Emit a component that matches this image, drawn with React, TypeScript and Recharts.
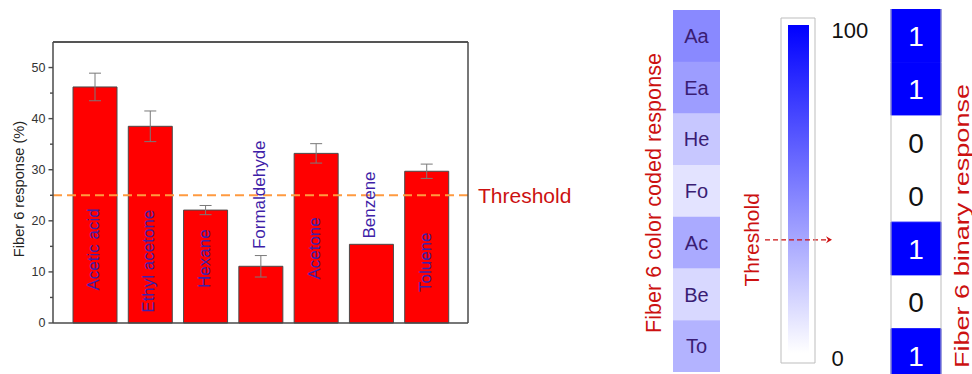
import React from 'react';
import {
  BarChart,
  Bar,
  XAxis,
  YAxis,
  ErrorBar,
  ReferenceLine,
  LabelList,
  Cell,
} from 'recharts';

// ---------- data ----------
const compounds = ['Acetic acid', 'Ethyl acetone', 'Hexane', 'Formaldehyde', 'Acetone', 'Benzene', 'Toluene'];
const shortNames = ['Aa', 'Ea', 'He', 'Fo', 'Ac', 'Be', 'To'];
const responses = [46.2, 38.5, 22.1, 11.1, 33.2, 15.4, 29.7];
const errors = [2.7, 3.0, 0.9, 2.1, 1.9, 0, 1.4];
// value-axis level at which each rotated compound name is centred
const labelCenters = [14.4, 12.1, 12.6, 25.1, 14.6, 23.1, 11.9];
const threshold = 25;
const yTicks = [0, 5, 10, 15, 20, 25, 30, 35, 40, 45, 50];
const yDomain = [0, 55];
const binary = [1, 1, 0, 0, 1, 0, 1];
const gradientTicks = [0, 100];
const arrowLevel = 34.5;
const CELL_SPAN = 1;

const mainData = compounds.map((name, i) => ({ name, value: responses[i], err: errors[i] }));
const cellData = shortNames.map((short, i) => ({ short, value: responses[i], bit: binary[i], span: CELL_SPAN }));
const scaleData = [{ k: 'scale', top: gradientTicks[1] }];

// ---------- styles ----------
const FONT = 'Liberation Sans, Arial, Helvetica, sans-serif';
const AX = '#4a4a4a';
const RED_TXT = '#cc1111';
const NAME_COL = '#3f1fa8';
const CELL_TXT = '#3a1d74';
const BOX = '#bdbdbd';

const shade = (v: number) => {
  const c = Math.round(255 * (1 - v / 100));
  return `rgb(${c},${c},255)`;
};

const LeftTick = (props: any) => {
  const { x, y, payload } = props;
  const major = payload.value % 10 === 0;
  return (
    <g>
      <line x1={x} x2={x - (major ? 4.5 : 3)} y1={y} y2={y} stroke={AX} strokeWidth={1.4} />
      {major && (
        <text x={x - 7.5} y={y} dy={4.4} textAnchor="end" fontSize={12.5} fill="#333" fontFamily={FONT}>
          {payload.value}
        </text>
      )}
    </g>
  );
};

const RightTick = (props: any) => {
  const { x, y, payload } = props;
  const major = payload.value % 10 === 0;
  return <line x1={x} x2={x + (major ? 6 : 3.5)} y1={y} y2={y} stroke={AX} strokeWidth={1.4} />;
};

const boxOf = (props: any) => {
  const vb = props.viewBox || {};
  return {
    x: props.x ?? vb.x,
    y: props.y ?? vb.y,
    width: props.width ?? vb.width,
    height: props.height ?? vb.height,
  };
};

const NameLabel = (props: any) => {
  const { x, y, width, height } = boxOf(props);
  const i = props.index;
  const v = responses[i];
  const base = y + height;
  const cy = base - (labelCenters[i] * height) / v;
  const cx = x + width / 2 - 1.5;
  return (
    <text
      x={cx}
      y={cy}
      transform={`rotate(-90 ${cx} ${cy})`}
      textAnchor="middle"
      dominantBaseline="central"
      fontSize={17}
      fill={NAME_COL}
      fontFamily={FONT}
    >
      {compounds[i]}
    </text>
  );
};

const CellLabel = (props: any) => {
  const { x, y, width, height } = boxOf(props);
  const i = props.index;
  return (
    <text x={x + width / 2} y={y + height / 2} textAnchor="middle" dominantBaseline="central" fontSize={20} fill={CELL_TXT} fontFamily={FONT}>
      {shortNames[i]}
    </text>
  );
};

const BitLabel = (props: any) => {
  const { x, y, width, height } = boxOf(props);
  const i = props.index;
  const b = binary[i];
  return (
    <text x={x + width / 2} y={y + height / 2 + 1} textAnchor="middle" dominantBaseline="central" fontSize={28} fill={b ? '#ffffff' : '#111111'} fontFamily={FONT}>
      {b}
    </text>
  );
};

const ScaleTick = (props: any) => {
  const { x, y, payload } = props;
  return (
    <text x={x + 16.5} y={y + 5} dominantBaseline="central" fontSize={22} fill="#111" fontFamily={FONT}>
      {payload.value}
    </text>
  );
};

const ArrowShape = (p: any) => {
  const y = p.y1;
  const left = Math.min(p.x1, p.x2);
  const right = Math.max(p.x1, p.x2);
  const xs = left - 16;
  const xe = right + 12;
  const tx = left - 29;
  return (
    <g>
      <line x1={xs} y1={y} x2={xe} y2={y} stroke={RED_TXT} strokeWidth={1.3} strokeDasharray="5 3" />
      <path d={`M${xe - 1},${y - 3.5} L${xe + 5},${y} L${xe - 1},${y + 3.5} L${xe + 1},${y} Z`} fill={RED_TXT} />
      <text
        x={tx}
        y={y}
        transform={`rotate(-90 ${tx} ${y})`}
        textAnchor="middle"
        dominantBaseline="central"
        fontSize={21}
        fill={RED_TXT}
        fontFamily={FONT}
      >
        Threshold
      </text>
    </g>
  );
};

export default function App() {
  return (
    <div
      style={{
        position: 'absolute',
        left: 0,
        top: 0,
        width: 972,
        height: 374,
        overflow: 'hidden',
        background: '#fff',
        fontFamily: FONT,
      }}
    >
      {/* main bar chart */}
      <div style={{ position: 'absolute', left: 0, top: 0 }}>
        <BarChart width={600} height={374} data={mainData} margin={{ top: 41, right: 0, bottom: 50, left: 0 }} barSize={44}>
          <XAxis dataKey="name" tick={false} tickLine={false} height={1} padding={{ left: 14, right: 14 }} axisLine={{ stroke: AX, strokeWidth: 1.5 }} />
          <XAxis xAxisId="top" orientation="top" dataKey="name" tick={false} tickLine={false} height={1} padding={{ left: 14, right: 14 }} axisLine={{ stroke: AX, strokeWidth: 1.5 }} />
          <YAxis
            width={53}
            domain={yDomain}
            ticks={yTicks}
            interval={0}
            tickSize={0}
            tickMargin={0}
            tickLine={false}
            tick={<LeftTick />}
            axisLine={{ stroke: AX, strokeWidth: 1.5 }}
          />
          <YAxis
            yAxisId="r"
            orientation="right"
            width={132}
            domain={yDomain}
            ticks={yTicks}
            interval={0}
            tickSize={0}
            tickMargin={0}
            tickLine={false}
            tick={<RightTick />}
            axisLine={{ stroke: AX, strokeWidth: 1.5 }}
          />
          <Bar dataKey="value" fill="#ff0000" stroke="#4a4a4a" strokeWidth={1} isAnimationActive={false}>
            <ErrorBar dataKey="err" width={6} stroke="#7a7a7a" strokeWidth={1} direction="y" />
            <LabelList dataKey="value" content={<NameLabel />} />
          </Bar>
          <ReferenceLine y={yDomain[1]} stroke={AX} strokeWidth={1.5} />
          <ReferenceLine
            y={threshold}
            stroke="#ff9a40"
            strokeWidth={2}
            strokeDasharray="9 5"
            label={{ value: 'Threshold', position: 'right', offset: 10, fill: RED_TXT, fontSize: 21, fontFamily: FONT }}
          />
        </BarChart>
      </div>

      {/* colour coded column */}
      <div style={{ position: 'absolute', left: 673, top: 10 }}>
        <BarChart layout="vertical" width={47} height={362} data={cellData} margin={{ top: 0, right: 0, bottom: 0, left: 0 }} barCategoryGap={0}>
          <XAxis type="number" domain={[0, CELL_SPAN]} hide />
          <YAxis type="category" dataKey="short" hide />
          <Bar dataKey="span" isAnimationActive={false}>
            {cellData.map((d, i) => (
              <Cell key={i} fill={shade(d.value)} />
            ))}
            <LabelList dataKey="short" content={<CellLabel />} />
          </Bar>
        </BarChart>
      </div>

      {/* gradient scale */}
      <div style={{ position: 'absolute', left: 740, top: 0 }}>
        <BarChart width={140} height={374} data={scaleData} margin={{ top: 17, right: 0, bottom: 10, left: 40 }} barSize={21}>
          <defs>
            <linearGradient id="blueScale" x1="0" y1="0" x2="0" y2="1">
              <stop offset="0%" stopColor="#0000ff" />
              <stop offset="100%" stopColor="#ffffff" />
            </linearGradient>
          </defs>
          <XAxis dataKey="k" tick={false} tickLine={false} height={1} axisLine={{ stroke: BOX }} />
          <XAxis xAxisId="top" orientation="top" dataKey="k" tick={false} tickLine={false} height={1} axisLine={{ stroke: BOX }} />
          <YAxis yAxisId="l" width={1} domain={[gradientTicks[0], gradientTicks[1]]} padding={{ top: 7, bottom: 10 }} tick={false} tickLine={false} axisLine={{ stroke: BOX }} />
          <YAxis
            yAxisId="r"
            orientation="right"
            width={65}
            domain={[gradientTicks[0], gradientTicks[1]]}
            ticks={gradientTicks}
            padding={{ top: 7, bottom: 10 }}
            tickSize={0}
            tickMargin={0}
            tickLine={false}
            tick={<ScaleTick />}
            axisLine={{ stroke: BOX }}
          />
          <Bar yAxisId="r" dataKey="top" fill="url(#blueScale)" isAnimationActive={false} />
          <ReferenceLine yAxisId="r" y={arrowLevel} shape={<ArrowShape />} />
        </BarChart>
      </div>

      {/* binary column */}
      <div style={{ position: 'absolute', left: 890, top: 9 }}>
        <BarChart layout="vertical" width={52} height={373} data={cellData} margin={{ top: 0, right: 0, bottom: 0, left: 0 }} barCategoryGap={0}>
          <XAxis type="number" domain={[0, CELL_SPAN]} hide />
          <YAxis type="category" dataKey="short" width={1} tick={false} tickLine={false} axisLine={{ stroke: BOX }} />
          <YAxis yAxisId="r" type="category" orientation="right" dataKey="short" width={1} tick={false} tickLine={false} axisLine={{ stroke: BOX }} />
          <Bar dataKey="span" isAnimationActive={false}>
            {cellData.map((d, i) => (
              <Cell
                key={i}
                fill={d.bit ? '#0000ff' : '#ffffff'}
                stroke={d.bit ? '#0000ff' : 'none'}
                strokeWidth={d.bit ? 1 : 0}
              />
            ))}
            <LabelList dataKey="bit" content={<BitLabel />} />
          </Bar>
        </BarChart>
      </div>

      {/* free titles */}
      <svg width={972} height={374} style={{ position: 'absolute', left: 0, top: 0, pointerEvents: 'none' }}>
        <text x={18.5} y={189} transform="rotate(-90 18.5 189)" textAnchor="middle" dominantBaseline="central" fontSize={14.6} fill="#222" fontFamily={FONT}>
          Fiber 6 response (%)
        </text>
        <text
          x={653}
          y={193}
          transform="rotate(-90 653 193)"
          textAnchor="middle"
          dominantBaseline="central"
          fontSize={22}
          textLength={280}
          lengthAdjust="spacingAndGlyphs"
          fill={RED_TXT}
          fontFamily={FONT}
        >
          Fiber 6 color coded response
        </text>
        <text
          x={961}
          y={226}
          transform="rotate(-90 961 226)"
          textAnchor="middle"
          dominantBaseline="central"
          fontSize={21}
          textLength={284}
          lengthAdjust="spacingAndGlyphs"
          fill={RED_TXT}
          fontFamily={FONT}
        >
          Fiber 6 binary response
        </text>
      </svg>
    </div>
  );
}
